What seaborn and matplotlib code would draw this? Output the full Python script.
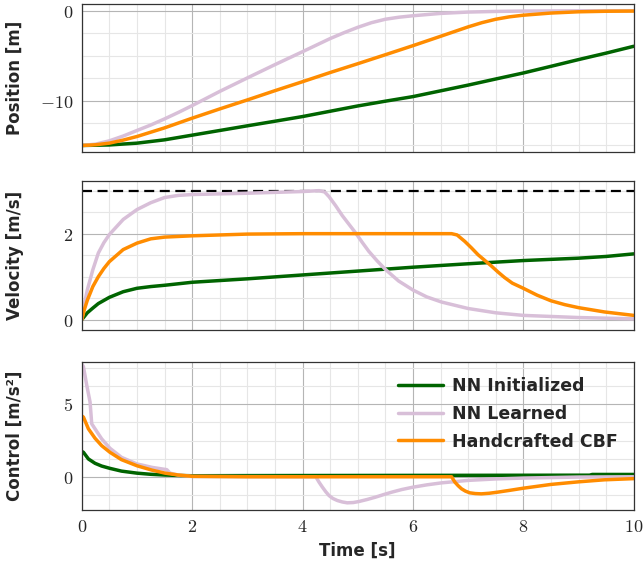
import numpy as np
import pandas as pd
import seaborn as sns
import matplotlib.pyplot as plt
from matplotlib.ticker import MultipleLocator, FuncFormatter

# series (time in s)
names = ["NN Initialized", "NN Learned", "Handcrafted CBF"]
colors = ["#006400", "#d8bfd8", "#ff8c00"]

# position [m]
t_pos_init = [0, 0.5, 1, 1.5, 2, 2.5, 3, 3.5, 4, 4.5, 5, 5.5, 6, 6.5, 7, 7.5, 8, 8.5, 9, 9.5, 10]
pos_init = [-15, -14.94, -14.74, -14.37, -13.85, -13.33, -12.81, -12.3, -11.78, -11.19, -10.6,
            -10.07, -9.56, -8.92, -8.28, -7.6, -6.93, -6.19, -5.44, -4.72, -3.96]
t_pos_learn = [0, 0.25, 0.5, 0.75, 1, 1.25, 1.5, 1.75, 2, 2.5, 3, 3.5, 4, 4.5, 4.75, 5, 5.25,
               5.5, 5.75, 6, 6.5, 7, 7.5, 8, 9, 10]
pos_learn = [-15, -14.85, -14.48, -13.95, -13.33, -12.72, -12.04, -11.32, -10.56, -8.98, -7.48,
             -6.0, -4.56, -3.1, -2.45, -1.85, -1.33, -0.95, -0.72, -0.56, -0.3, -0.15, -0.08,
             -0.04, -0.01, 0]
t_pos_hand = [0, 0.25, 0.5, 0.75, 1, 1.5, 2, 2.5, 3, 3.5, 4, 4.5, 5, 5.5, 6, 6.5, 7, 7.25,
              7.5, 7.75, 8, 8.5, 9, 9.5, 10]
pos_hand = [-15, -14.92, -14.74, -14.4, -14.0, -13.04, -11.96, -10.93, -9.93, -8.9, -7.9,
            -6.88, -5.9, -4.9, -3.89, -2.85, -1.8, -1.33, -0.95, -0.68, -0.5, -0.26, -0.12,
            -0.06, -0.04]

# velocity [m/s]
t_vel_init = [0, 0.1, 0.2, 0.3, 0.5, 0.75, 1, 1.25, 1.5, 2, 3, 4, 5, 6, 7, 8, 9, 9.5, 10]
vel_init = [0, 0.16, 0.27, 0.375, 0.52, 0.65, 0.73, 0.77, 0.8, 0.87, 0.95, 1.04, 1.13, 1.22,
            1.3, 1.375, 1.43, 1.47, 1.53]
t_vel_learn = [0, 0.05, 0.1, 0.2, 0.3, 0.4, 0.5, 0.75, 1, 1.25, 1.5, 1.75, 2, 3, 4, 4.3, 4.4,
               4.48, 4.6, 4.72, 4.84, 4.96, 5.08, 5.2, 5.35, 5.5, 5.74, 6, 6.25, 6.52, 7, 7.5,
               8, 9, 10]
vel_learn = [0, 0.38, 0.69, 1.16, 1.55, 1.79, 1.98, 2.33, 2.56, 2.72, 2.84, 2.89, 2.91, 2.94,
             2.98, 3.0, 2.97, 2.86, 2.65, 2.42, 2.22, 2.02, 1.8, 1.59, 1.37, 1.17, 0.9, 0.69,
             0.53, 0.41, 0.26, 0.16, 0.1, 0.05, 0.02]
t_vel_hand = [0, 0.05, 0.1, 0.2, 0.3, 0.4, 0.5, 0.75, 1, 1.25, 1.5, 2, 3, 4, 5, 6, 6.7, 6.8,
              6.94, 7.06, 7.18, 7.3, 7.42, 7.54, 7.66, 7.8, 8, 8.25, 8.5, 8.75, 9, 9.47, 10]
vel_hand = [0, 0.25, 0.45, 0.77, 1.0, 1.19, 1.35, 1.63, 1.78, 1.88, 1.92, 1.95, 1.99, 2.0, 2.0,
            2.0, 2.0, 1.97, 1.82, 1.67, 1.51, 1.38, 1.25, 1.11, 0.98, 0.85, 0.73, 0.57, 0.44,
            0.35, 0.28, 0.18, 0.1]

# control [m/s^2]
t_u_init = [0, 0.03, 0.12, 0.24, 0.36, 0.51, 0.72, 1, 1.25, 1.5, 1.75, 2, 3, 5, 7, 9.2, 9.25, 10]
u_init = [1.75, 1.69, 1.23, 0.93, 0.74, 0.58, 0.39, 0.25, 0.17, 0.12, 0.09, 0.07, 0.08, 0.09,
          0.1, 0.11, 0.16, 0.16]
t_u_learn = [0, 0.03, 0.09, 0.15, 0.18, 0.24, 0.36, 0.51, 0.72, 1, 1.09, 1.27, 1.54, 1.6, 1.75,
             2, 3, 4.24, 4.3, 4.36, 4.42, 4.48, 4.55, 4.63, 4.72, 4.81, 4.92, 5.02, 5.17, 5.32,
             5.47, 5.62, 5.8, 6, 6.25, 6.52, 7, 7.5, 8, 9, 10]
u_learn = [7.8, 7.6, 6.32, 5.16, 3.66, 3.31, 2.62, 1.97, 1.34, 0.88, 0.81, 0.65, 0.49, 0.25,
           0.12, 0.02, 0.01, 0.0, -0.38, -0.72, -1.03, -1.3, -1.5, -1.64, -1.74, -1.8, -1.78,
           -1.71, -1.57, -1.41, -1.23, -1.06, -0.88, -0.72, -0.56, -0.42, -0.25, -0.15, -0.09,
           -0.02, 0.0]
t_u_hand = [0, 0.03, 0.12, 0.24, 0.36, 0.51, 0.72, 1, 1.27, 1.51, 1.75, 2, 3, 5, 6.7, 6.76,
            6.82, 6.88, 6.95, 7.03, 7.13, 7.24, 7.38, 7.54, 7.75, 8, 8.5, 9, 9.47, 10]
u_hand = [4.2, 4.12, 3.31, 2.66, 2.15, 1.69, 1.18, 0.76, 0.46, 0.25, 0.12, 0.03, 0.0, 0.0, 0.0,
          -0.37, -0.62, -0.83, -0.99, -1.11, -1.16, -1.18, -1.14, -1.06, -0.94, -0.79, -0.53,
          -0.35, -0.21, -0.13]

v_max = 3

sns.set_theme(style="white")
plt.rcParams["font.family"] = ["DejaVu Sans"]
plt.rcParams["mathtext.fontset"] = "cm"

fig = plt.figure(figsize=(6.44, 5.68), dpi=100)
ax_pos = fig.add_axes([0.127, 0.732, 0.857, 0.261])
ax_vel = fig.add_axes([0.127, 0.419, 0.857, 0.262])
ax_u = fig.add_axes([0.127, 0.102, 0.857, 0.261])

panels = [
    (ax_pos, [(t_pos_init, pos_init), (t_pos_learn, pos_learn), (t_pos_hand, pos_hand)]),
    (ax_vel, [(t_vel_init, vel_init), (t_vel_learn, vel_learn), (t_vel_hand, vel_hand)]),
    (ax_u, [(t_u_init, u_init), (t_u_learn, u_learn), (t_u_hand, u_hand)]),
]

for ax, series in panels:
    for (t, y), name, c in zip(series, names, colors):
        df = pd.DataFrame({"t": t, "y": y})
        sns.lineplot(data=df, x="t", y="y", ax=ax, color=c, lw=2.5, label=name,
                     legend=False, sort=False)

ax_vel.axhline(v_max, color="black", ls="--", lw=1.6, dashes=(4.5, 2.5), zorder=1)

tick_fmt = FuncFormatter(lambda v, p: f"${v:g}$")
setup = [
    (ax_pos, (-15.75, 0.75), 10, 2.5, "Position [m]"),
    (ax_vel, (-0.24, 3.22), 2, 0.5, "Velocity [m/s]"),
    (ax_u, (-2.3, 7.94), 5, 1.25, "Control [m/s²]"),
]
for ax, ylim, major, minor, label in setup:
    ax.set_xlim(0, 10)
    ax.set_ylim(*ylim)
    ax.xaxis.set_major_locator(MultipleLocator(2))
    ax.xaxis.set_minor_locator(MultipleLocator(0.5))
    ax.yaxis.set_major_locator(MultipleLocator(major))
    ax.yaxis.set_minor_locator(MultipleLocator(minor))
    ax.yaxis.set_major_formatter(tick_fmt)
    ax.xaxis.set_major_formatter(tick_fmt)
    ax.grid(which="major", color="#b5b5b5", lw=0.8)
    ax.grid(which="minor", color="#e6e6e6", lw=0.8)
    ax.set_axisbelow(True)
    ax.tick_params(which="both", length=0, labelsize=13, pad=6)
    for s in ax.spines.values():
        s.set_color("#333333")
        s.set_linewidth(0.9)
    ax.set_ylabel(label, fontsize=12, fontweight="bold")
    ax.yaxis.set_label_coords(-0.105, 0.5)
    ax.set_xlabel("")

ax_pos.tick_params(labelbottom=False)
ax_vel.tick_params(labelbottom=False)
ax_u.set_xlabel("Time [s]", fontsize=12, fontweight="bold")

leg = ax_u.legend(loc="upper right", frameon=False, handlelength=2.6, handletextpad=0.55,
                  labelspacing=0.55, prop={"weight": "bold", "size": 12.5},
                  bbox_to_anchor=(1.0, 1.0))

fig.savefig("out.png", dpi=100)
